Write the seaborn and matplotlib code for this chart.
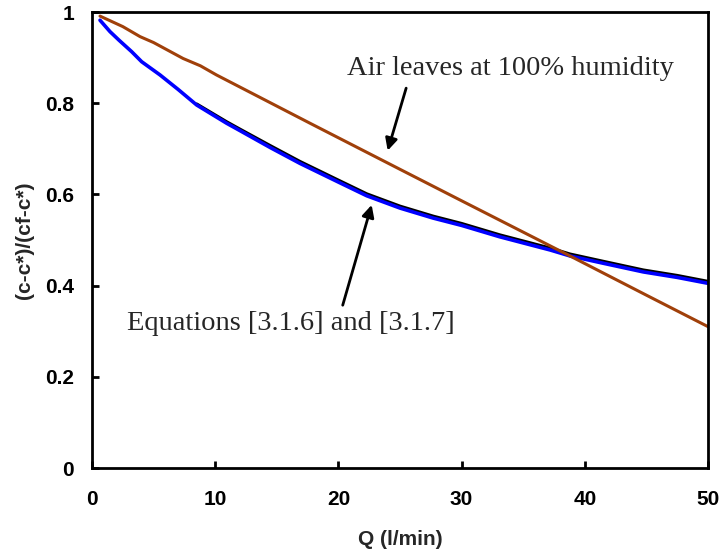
import matplotlib
matplotlib.use("Agg")
import matplotlib.pyplot as plt
import seaborn as sns
import pandas as pd

# ---- data ----
humid_x = [0.65, 2.5, 3.9, 5.0, 7.4, 8.8, 10.1, 17.7, 25.0, 30.0, 38.8, 45.0, 50.0]
humid_y = [0.991, 0.968, 0.946, 0.933, 0.898, 0.882, 0.862, 0.756, 0.655, 0.586, 0.465, 0.379, 0.310]

model_x = [8.5, 10.93, 12.0, 14.45, 16.88, 20.0, 22.3, 25.0, 27.7, 30.0, 33.1, 37.2,
           38.8, 41.5, 44.75, 47.5, 50.0]
model_y = [0.798, 0.759, 0.743, 0.707, 0.672, 0.631, 0.601, 0.574, 0.552, 0.536,
           0.511, 0.482, 0.469, 0.453, 0.434, 0.422, 0.409]

eq_x = [0.65, 1.46, 2.2, 3.22, 4.03, 5.52, 7.0, 8.5, 10.93, 12.0, 14.45, 16.88, 20.0,
        22.3, 25.0, 27.7, 30.0, 33.1, 37.2, 38.8, 41.5, 44.75, 47.5, 50.0]
eq_y = [0.982, 0.957, 0.938, 0.913, 0.891, 0.862, 0.830, 0.796, 0.756, 0.740, 0.703,
        0.668, 0.627, 0.597, 0.570, 0.548, 0.532, 0.507, 0.478, 0.465, 0.449, 0.430,
        0.418, 0.405]

x_ticks = [0, 10, 20, 30, 40, 50]
y_ticks = [0, 0.2, 0.4, 0.6, 0.8, 1.0]
y_tick_labels = ["0", "0.2", "0.4", "0.6", "0.8", "1"]

sns.set_style("white")
plt.rcParams["font.family"] = ["Liberation Sans", "DejaVu Sans"]

fig = plt.figure(figsize=(7.21, 5.58), dpi=100)
ax = fig.add_axes([92 / 721, 1 - 468 / 558, (708 - 92) / 721, (468 - 12) / 558])

df_h = pd.DataFrame({"x": humid_x, "y": humid_y})
df_m = pd.DataFrame({"x": model_x, "y": model_y})
df_e = pd.DataFrame({"x": eq_x, "y": eq_y})

sns.lineplot(data=df_m, x="x", y="y", ax=ax, color="black", lw=2.4,
             sort=False, estimator=None)
sns.lineplot(data=df_e, x="x", y="y", ax=ax, color="#0000FF", lw=2.6,
             sort=False, estimator=None)
sns.lineplot(data=df_h, x="x", y="y", ax=ax, color="#A0400A", lw=2.2,
             sort=False, estimator=None)

ax.set_xlim(0, 50)
ax.set_ylim(0, 1)
ax.set_xticks(x_ticks)
ax.set_xticklabels([str(t) for t in x_ticks])
ax.set_yticks(y_ticks)
ax.set_yticklabels(y_tick_labels)

for s in ax.spines.values():
    s.set_visible(True)
    s.set_color("black")
    s.set_linewidth(2.0)

ax.tick_params(axis="both", direction="in", length=5, width=2, colors="black",
               labelsize=15, bottom=True, left=True, top=False, right=False)
ax.tick_params(axis="x", pad=16)
ax.tick_params(axis="y", pad=13)
for lbl in ax.get_xticklabels() + ax.get_yticklabels():
    lbl.set_fontweight("bold")

ax.set_xlabel("Q (l/min)", fontsize=15, fontweight="bold", labelpad=15)
ax.set_ylabel("(c-c*)/(cf-c*)", fontsize=15, fontweight="bold", labelpad=8)

serif = ["Liberation Serif", "DejaVu Serif"]
arrow_kw = dict(arrowstyle="-|>", color="black", lw=2, mutation_scale=18,
                shrinkA=0, shrinkB=0)

ax.text(20.7, 0.862, "Air leaves at 100% humidity", fontsize=20.5, family=serif,
        ha="left", va="baseline")
ax.annotate("", xy=(24.0, 0.696), xytext=(25.5, 0.833), arrowprops=arrow_kw)

ax.text(2.84, 0.303, "Equations [3.1.6] and [3.1.7]", fontsize=20.5, family=serif,
        ha="left", va="baseline")
ax.annotate("", xy=(22.7, 0.577), xytext=(20.35, 0.357), arrowprops=arrow_kw)

fig.savefig("out.png", dpi=100)
